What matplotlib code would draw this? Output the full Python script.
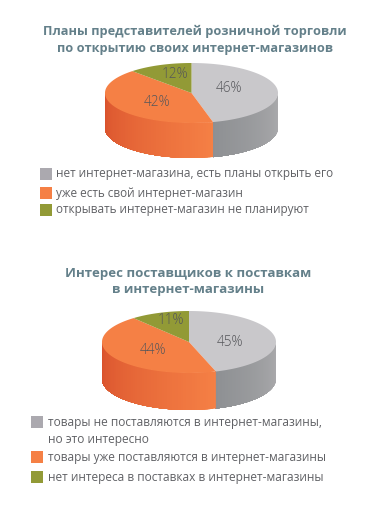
import numpy as np
import matplotlib
matplotlib.use("Agg")
import matplotlib.pyplot as plt
from matplotlib.colors import to_rgb

plt.rcParams["font.family"] = ["Open Sans", "DejaVu Sans"]

# values
values_top = [46, 42, 12]
values_bottom = [45, 44, 11]
labels_top = ["нет интернет-магазина, есть планы открыть его",
              "уже есть свой интернет-магазин",
              "открывать интернет-магазин не планируют"]
labels_bottom = ["товары не поставляются в интернет-магазины,\nно это интересно",
                 "товары уже поставляются в интернет-магазины",
                 "нет интереса в поставках в интернет-магазины"]
title_top = "Планы представителей розничной торговли\nпо открытию своих интернет-магазинов"
title_bottom = "Интерес поставщиков к поставкам\nв интернет-магазины"

top_colors = ["#C9C8CB", "#F58045", "#929A36"]
side_from = ["#ACACAE", "#F58045", "#929A36"]
side_to = ["#8E9093", "#D9512C", "#929A36"]
legend_colors = ["#ABA9AF", "#F58045", "#929A36"]
text_color = "#606165"
title_color = "#64808A"

fig = plt.figure(figsize=(3.8, 5.13), dpi=100)
ax = fig.add_axes([0, 0, 1, 1])
ax.set_xlim(0, 380)
ax.set_ylim(513, 0)
ax.axis("off")


def draw_pie(values, cx, cy, rx, ry, depth, label_pos):
    edges = np.cumsum([0] + values) / sum(values) * 2 * np.pi
    # side wall, only the front half shows
    for i in range(len(values)):
        a0, a1 = max(edges[i], np.pi / 2), min(edges[i + 1], 3 * np.pi / 2)
        if a1 <= a0:
            continue
        steps = np.linspace(a0, a1, 60)
        for j in range(len(steps) - 1):
            t = (j + 0.5) / (len(steps) - 1)
            col = np.array(to_rgb(side_from[i])) * (1 - t) + np.array(to_rgb(side_to[i])) * t
            # each strip runs to the end of the slice so no seams show
            aa = np.linspace(steps[j], a1, 60)
            xs = cx + rx * np.sin(aa)
            ys = cy - ry * np.cos(aa)
            ax.fill(np.r_[xs, xs[::-1]], np.r_[ys, ys[::-1] + depth], color=col, lw=0, zorder=2)
    # top face
    for i in range(len(values)):
        aa = np.linspace(edges[i], edges[i + 1], 80)
        xs = np.r_[cx, cx + rx * np.sin(aa)]
        ys = np.r_[cy, cy - ry * np.cos(aa)]
        ax.fill(xs, ys, color=top_colors[i], lw=0, zorder=3)
    for v, (x, y) in zip(values, label_pos):
        ax.text(x, y, f"{v}%", ha="center", va="center", fontsize=9.8, color="#55565A",
                fontweight="light", zorder=4)


def draw_legend(labels, ys, x_box, x_text, size):
    for lab, y, col in zip(labels, ys, legend_colors):
        ax.add_patch(plt.Rectangle((x_box, y - 6), 12, 12, color=col, lw=0))
        ax.text(x_text, y, lab, ha="left", va="top" if "\n" in lab else "center", fontsize=size,
                color=text_color, linespacing=1.35)


ax.text(195, 40, title_top, ha="center", va="center", fontsize=9.15, fontweight="bold",
        color=title_color, linespacing=1.4)
ax.text(188, 282, title_bottom, ha="center", va="center", fontsize=9.5, fontweight="bold",
        color=title_color, linespacing=1.3)

draw_pie(values_top, 191.5, 93, 86.5, 30, 35, [(229, 89), (157, 102), (175, 75)])
draw_pie(values_bottom, 189, 342, 87, 31, 37, [(230, 342), (153, 351), (171, 321)])

draw_legend(labels_top, [174, 193, 210], 40, 56, 8.45)
draw_legend(labels_bottom, [422, 457, 477], 31, 48, 8.55)
ax.texts[-3].set_y(416)

fig.savefig("out.png", dpi=100)
